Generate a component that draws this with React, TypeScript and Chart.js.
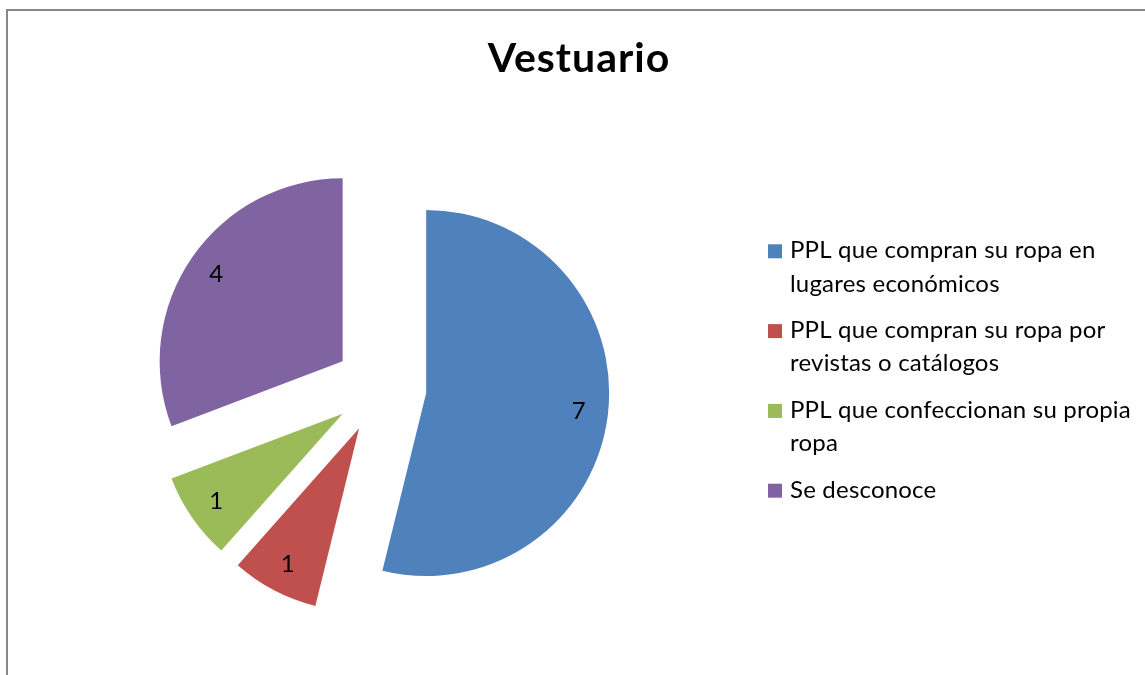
import React, { useEffect, useRef } from 'react';
import { Chart, registerables } from 'chart.js';

Chart.register(...registerables);

// ---- data ----
const chartTitle = 'Vestuario';
const categories: string[][] = [
  ['PPL que compran su ropa en', 'lugares económicos'],
  ['PPL que compran su ropa por', 'revistas o catálogos'],
  ['PPL que confeccionan su propia', 'ropa'],
  ['Se desconoce'],
];
const values: number[] = [7, 1, 1, 4];
const sliceColors: string[] = ['#4F81BD', '#C0504D', '#9BBB59', '#8064A2'];

// ---- style / layout constants ----
const FONT = 'Lato, "Open Sans", "Liberation Sans", sans-serif';
const CANVAS_W = 1137;
const CANVAS_H = 664;
const EXPLODE = 46;
const RADIUS = 183;
const LABEL_RATIO = 0.84;
const TITLE_X = 571;
const TITLE_Y = 61.3;
const LEGEND_BOX_X = 760;
const LEGEND_TEXT_X = 782;
const LEGEND_TOP_BASELINE = 247.3;
const LEGEND_LINE_H = 33.2;
const LEGEND_ITEM_GAP = 13.4;
const LEGEND_BOX = 14;

const piePlugin = {
  id: 'explodedPieDecor',
  beforeDatasetDraw(chart: any, args: any) {
    const ctx = chart.ctx;
    args.meta.data.forEach((arc: any) => {
      const mid = (arc.startAngle + arc.endAngle) / 2;
      ctx.save();
      ctx.translate(Math.cos(mid) * EXPLODE, Math.sin(mid) * EXPLODE);
      arc.draw(ctx, chart.chartArea);
      ctx.restore();
    });
    return false;
  },
  afterDraw(chart: any) {
    const ctx = chart.ctx;
    const meta = chart.getDatasetMeta(0);
    ctx.save();
    // data labels
    ctx.fillStyle = '#000';
    ctx.font = `24px ${FONT}`;
    ctx.textAlign = 'center';
    ctx.textBaseline = 'middle';
    meta.data.forEach((arc: any, i: number) => {
      const mid = (arc.startAngle + arc.endAngle) / 2;
      const r = EXPLODE + arc.outerRadius * LABEL_RATIO;
      ctx.fillText(String(values[i]), arc.x + Math.cos(mid) * r, arc.y + Math.sin(mid) * r);
    });
    // title
    ctx.font = `bold 41px ${FONT}`;
    (ctx as any).letterSpacing = '1px';
    ctx.textAlign = 'center';
    ctx.textBaseline = 'alphabetic';
    ctx.fillText(chartTitle, TITLE_X, TITLE_Y);
    // legend
    ctx.font = `24px ${FONT}`;
    (ctx as any).letterSpacing = '0.2px';
    ctx.textAlign = 'left';
    let y = LEGEND_TOP_BASELINE;
    categories.forEach((lines, i) => {
      ctx.fillStyle = sliceColors[i];
      ctx.fillRect(LEGEND_BOX_X, y - LEGEND_BOX, LEGEND_BOX, LEGEND_BOX);
      ctx.fillStyle = '#000';
      lines.forEach((line, j) => {
        ctx.fillText(line, LEGEND_TEXT_X, y + j * LEGEND_LINE_H);
      });
      y += lines.length * LEGEND_LINE_H + LEGEND_ITEM_GAP;
    });
    (ctx as any).letterSpacing = '0px';
    ctx.restore();
  },
};

export default function App() {
  const canvasRef = useRef<HTMLCanvasElement | null>(null);

  useEffect(() => {
    if (!canvasRef.current) return;
    const chart = new Chart(canvasRef.current, {
      type: 'pie',
      data: {
        labels: categories.map((l) => l.join(' ')),
        datasets: [
          {
            data: values,
            backgroundColor: sliceColors,
            borderWidth: 0,
            radius: RADIUS,
          } as any,
        ],
      },
      options: {
        animation: false,
        responsive: false,
        radius: RADIUS,
        layout: { padding: { left: 0, right: 392, top: 89, bottom: 0 } },
        plugins: {
          legend: { display: false },
          title: { display: false },
          tooltip: { enabled: false },
        },
        events: [],
      } as any,
      plugins: [piePlugin],
    });
    return () => chart.destroy();
  }, []);

  return (
    <div
      style={{
        position: 'absolute',
        left: 6,
        top: 9,
        width: 1139,
        height: 666,
        borderTop: '2px solid #878787',
        borderLeft: '2px solid #878787',
        boxSizing: 'border-box',
        background: '#fff',
      }}
    >
      <canvas ref={canvasRef} width={CANVAS_W} height={CANVAS_H} style={{ display: 'block' }} />
    </div>
  );
}
